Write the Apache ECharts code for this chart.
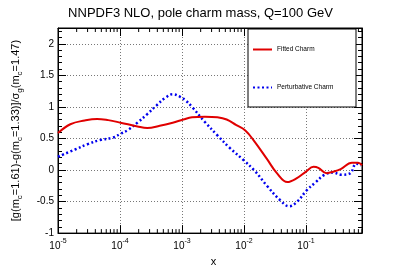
<!DOCTYPE html>
<html>
<head>
<meta charset="utf-8">
<script src="https://cdn.jsdelivr.net/npm/echarts@6/dist/echarts.min.js"></script>
<style>html,body{margin:0;padding:0;background:#fff;}#c{width:401px;height:272px;}</style>
</head>
<body>
<div id="c"></div>
<script>
var fittedX = [1.0e-5,1.58e-5,2.69e-5,4.27e-5,6.46e-5,1.02e-4,1.91e-4,2.75e-4,4.37e-4,7.08e-4,1.05e-3,1.45e-3,2.34e-3,3.72e-3,5.25e-3,7.41e-3,1.05e-2,1.48e-2,2.34e-2,3.39e-2,5.01e-2,7.24e-2,0.100,0.132,0.158,0.214,0.282,0.363,0.550,0.692,0.80];
var fittedY = [0.585,0.725,0.785,0.81,0.79,0.75,0.69,0.665,0.70,0.75,0.80,0.835,0.845,0.835,0.80,0.715,0.625,0.45,0.175,-0.05,-0.19,-0.125,-0.025,0.05,0.035,-0.05,-0.025,0.015,0.115,0.115,0.075];
var pertX = [1.0e-5,1.88e-5,3.02e-5,4.79e-5,7.76e-5,1.02e-4,1.35e-4,1.91e-4,2.75e-4,3.89e-4,5.50e-4,7.08e-4,9.33e-4,1.15e-3,1.45e-3,2.34e-3,3.72e-3,5.89e-3,1.0e-2,1.48e-2,2.34e-2,3.80e-2,5.37e-2,7.24e-2,0.102,0.141,0.200,0.269,0.380,0.513,0.646,0.776];
var pertY = [0.21,0.325,0.41,0.475,0.515,0.575,0.635,0.75,0.885,1.025,1.15,1.20,1.16,1.10,1.0,0.76,0.55,0.35,0.15,-0.01,-0.25,-0.475,-0.575,-0.5,-0.325,-0.2,-0.075,-0.04,-0.075,-0.055,0.1,0.075];
var seriesNames = ['Fitted Charm','Perturbative Charm'];
var titleText = 'NNPDF3 NLO, pole charm mass, Q=100 GeV';
var xMin = 1e-5, xMax = 0.8, yMin = -1, yMax = 2.25, yStep = 0.5;
var minorDecades = [-5,-4,-3,-2,-1];
var minorMult = [2,3,4,5,6,7,8,9];

function zip(a,b){return a.map(function(v,i){return [v,b[i]];});}
var minorTicks = [];
minorDecades.forEach(function(d){minorMult.forEach(function(m){var v=m*Math.pow(10,d); if(v<=xMax) minorTicks.push([v,yMin]);});});

var FONT = 'Liberation Sans, Arial, Helvetica, sans-serif';
function xLabel(v){
  var l = Math.log10(v), e = Math.round(l);
  if (Math.abs(l-e) > 1e-6) return '';
  return '{b|10}{s|' + e + '}';
}
var xLabelStyle = {fontFamily:FONT, color:'#000', margin:4,
  rich:{b:{fontSize:10, fontFamily:FONT, verticalAlign:'bottom', lineHeight:14}, s:{fontSize:7, fontFamily:FONT, verticalAlign:'top', lineHeight:14}},
  formatter:xLabel};
var gridLine = {show:true, lineStyle:{color:'#777', type:[1,2], width:1}};

var chart = echarts.init(document.getElementById('c'), null, {renderer:'canvas'});
chart.setOption({
  animation:false,
  backgroundColor:'#fff',
  title:{text:titleText, left:'center', top:2, textStyle:{fontFamily:FONT, fontSize:13, fontWeight:'normal', color:'#000'}},
  grid:{left:40, right:39, top:28, bottom:28, show:true, borderColor:'#000', borderWidth:1},
  legend:{data:seriesNames, orient:'vertical', left:252, top:46, padding:0, itemWidth:19, itemHeight:8, itemGap:31, z:20,
    itemStyle:{opacity:0},
    textStyle:{fontFamily:FONT, fontSize:6.5, color:'#000'}},
  graphic:[{type:'rect', shape:{x:248, y:29, width:108, height:78}, style:{fill:'#fff', stroke:'#000', lineWidth:1}, z:10}],
  xAxis:[
    {type:'log', logBase:10, min:xMin, max:xMax, position:'bottom',
     name:'x', nameLocation:'middle', nameGap:17, nameTextStyle:{fontFamily:FONT, fontSize:11, color:'#000', padding:[0,0,0,7]},
     axisLine:{onZero:false, lineStyle:{color:'#000', width:1}}, axisTick:{inside:true, length:8, lineStyle:{color:'#000'}},
     axisLabel:xLabelStyle, splitLine:gridLine},
    {type:'log', logBase:10, min:xMin, max:xMax, position:'top',
     axisLine:{onZero:false, lineStyle:{color:'#000'}}, axisTick:{inside:true, length:8, lineStyle:{color:'#000'}},
     axisLabel:{show:false}, splitLine:{show:false}}
  ],
  yAxis:[
    {type:'value', min:yMin, max:yMax, interval:yStep, position:'left',
     name:'[g(m{sub|c}=1.61)-g(m{sub|c}=1.33)]/σ{sub|g}(m{sub|c}=1.47)', nameLocation:'middle', nameGap:34,
     nameTextStyle:{fontFamily:FONT, fontSize:11, color:'#000', lineHeight:16,
       rich:{sub:{fontSize:8, fontFamily:FONT, verticalAlign:'bottom', lineHeight:16}}},
     axisLine:{onZero:false, lineStyle:{color:'#000'}}, axisTick:{inside:true, length:8, lineStyle:{color:'#000'}},
     minorTick:{show:true, splitNumber:5, length:4, lineStyle:{color:'#000'}},
     axisLabel:{fontFamily:FONT, fontSize:10, color:'#000', margin:4, showMaxLabel:false,
       formatter:function(v){return (Math.abs(v/yStep-Math.round(v/yStep))<1e-6)? String(v):'';}},
     splitLine:gridLine},
    {type:'value', min:yMin, max:yMax, interval:yStep, position:'right',
     axisLine:{onZero:false, lineStyle:{color:'#000'}}, axisTick:{inside:true, length:8, lineStyle:{color:'#000'}},
     minorTick:{show:true, splitNumber:5, length:4, lineStyle:{color:'#000'}},
     axisLabel:{show:false}, splitLine:{show:false}}
  ],
  series:[
    {name:seriesNames[0], type:'line', data:zip(fittedX,fittedY), smooth:0.4, symbol:'none',
     lineStyle:{color:'#e00000', width:2}, itemStyle:{color:'#e00000'}, z:5},
    {name:seriesNames[1], type:'line', data:zip(pertX,pertY), smooth:0.4, symbol:'none',
     lineStyle:{color:'#0000ee', width:2.5, type:[2,2.5]}, itemStyle:{color:'#0000ee'}, z:4},
    {type:'custom', data:minorTicks, silent:true, z:3,
     renderItem:function(params, api){
       var bot = api.coord([api.value(0), yMin]);
       var top = api.coord([api.value(0), yMax]);
       return {type:'group', children:[
         {type:'line', shape:{x1:bot[0], y1:bot[1], x2:bot[0], y2:bot[1]-4}, style:{stroke:'#000', lineWidth:1}},
         {type:'line', shape:{x1:top[0], y1:top[1], x2:top[0], y2:top[1]+4}, style:{stroke:'#000', lineWidth:1}}
       ]};
     }}
  ]
});
</script>
</body>
</html>
